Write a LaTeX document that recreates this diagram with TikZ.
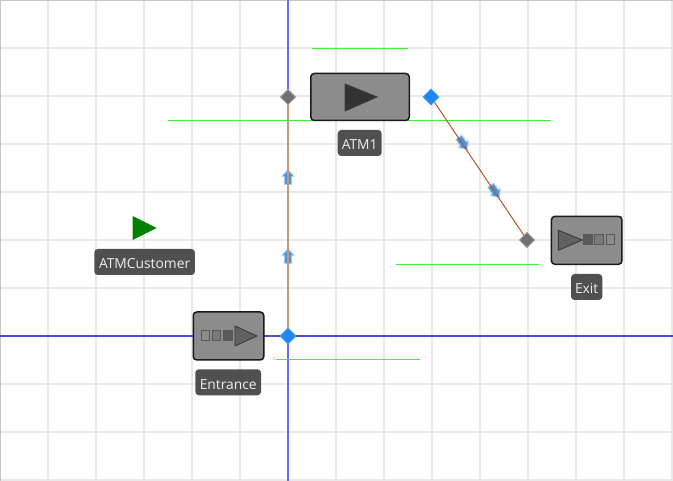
\documentclass[tikz,border=0pt]{standalone}
\usepackage{fontspec}
\setmainfont{Open Sans}
\usetikzlibrary{shapes.geometric}
\definecolor{gridc}{HTML}{E8E8E8}
\definecolor{axish}{HTML}{4A4AE0}
\definecolor{axisv}{HTML}{6C6CF2}
\definecolor{greenl}{HTML}{3CF03C}
\definecolor{boxf}{HTML}{8C8C8C}
\definecolor{boxd}{HTML}{1A1A1A}
\definecolor{labf}{HTML}{505050}
\definecolor{labt}{HTML}{EFEFEF}
\definecolor{bluep}{HTML}{1E88F0}
\definecolor{grayp}{HTML}{707070}
\definecolor{tanc}{HTML}{C09A80}
\definecolor{brownc}{HTML}{A85A28}
\definecolor{arrf}{HTML}{4A94E0}
\definecolor{arre}{HTML}{B0CCEA}
\definecolor{triout}{HTML}{3A3A3A}
\tikzset{
  gridline/.style={gridc,line width=1.5pt},
  axisline/.style={line width=1.1pt},
  greenbar/.style={fill=greenl,draw=none},
  objbox/.style={draw=boxd,fill=boxf,line width=1.5pt,rounded corners=3.5pt,inner sep=0pt,minimum height=47pt},
  lab/.style={fill=labf,text=labt,rounded corners=3.5pt,inner sep=0pt,minimum height=26pt,text height=14pt,text depth=0pt,font=\fontsize{13.8}{15}\selectfont},
  portin/.style={diamond,aspect=1,fill=grayp,draw=grayp!70!white,line width=.6pt,inner sep=0pt,minimum size=15pt},
  portout/.style={diamond,aspect=1,fill=bluep,draw=bluep!80!white,line width=.6pt,inner sep=0pt,minimum size=16pt},
  tube/.style={tanc,line width=1.6pt},
  tubeb/.style={brownc,line width=1pt},
  tri/.style={draw=triout,line width=.9pt,line join=miter},
  pip/.style={line width=1pt,draw=triout!85!white},
  flowarrow/.style={fill=arrf,draw=arre,line width=.9pt,line join=round}
}
\newcommand{\flowmark}[3]{%
  \begin{scope}[shift={(#1,#2)},rotate=#3]
    \path[flowarrow] (0,-7.5)--(6,-.5)--(3.6,-.5)--(3.6,7.5)--(-3.6,7.5)--(-3.6,-.5)--(-6,-.5)--cycle;
  \end{scope}}
\begin{document}
\begin{tikzpicture}[x=1pt,y=-1pt]
\useasboundingbox (0,0) rectangle (673,481);
\fill[white] (0,0) rectangle (673,481);
\foreach \gx in {48,96,144,192,240,336,384,432,480,528,576,624,672}
  \draw[gridline] (\gx,0) -- (\gx,481);
\foreach \gy in {48,96,144,192,240,288,384,432,480}
  \draw[gridline] (0,\gy) -- (673,\gy);
\draw[gridc!85!black,line width=1.2pt] (0.6,0) -- (0.6,481);
\draw[gridc!85!black,line width=1.2pt] (0,0.6) -- (673,0.6);
\draw[axisline,axish] (0,336) -- (673,336);
\draw[axisline,axisv] (288,0) -- (288,481);
\fill[greenbar] (312,47.8) rectangle (408,49.1);
\fill[greenbar] (168,119.8) rectangle (551,121.1);
\fill[greenbar] (396,263.8) rectangle (539,265.1);
\fill[greenbar] (276,358.8) rectangle (420,360.1);

\node[portin] (atmin) at (288,97) {};
\node[portout] (atmout) at (431,97) {};
\node[portin] (exitin) at (527,240) {};
\node[portout] (entout) at (288,336) {};
\flowmark{288}{177}{0}
\flowmark{288}{256}{0}
\flowmark{463}{143.5}{-146}
\flowmark{495}{191.5}{-146}
\path[tube] (entout.center) edge (atmin.center);
\path[tubeb] (atmout.center) edge (exitin.center);
\node[portin] at (atmin) {};
\node[portout] at (atmout) {};
\node[portin] at (exitin) {};
\node[portout] at (entout) {};

% ATM1
\node[objbox,minimum width=98.5pt] (atm) at (360,97) {};
\path[tri,fill=black!80] (345,84) -- (345,111) -- (377,97) -- cycle;
\node[lab,minimum width=44pt] (atmlab) at (359.7,143) {ATM1};

% Entrance
\node[objbox,minimum width=70.5pt,minimum height=48pt] (ent) at (228.5,336) {};
\path[tri,fill=black!62] (235,326) -- (235,346) -- (257,336) -- cycle;
\path[pip,fill=boxf] (201,331) rectangle (209,341);
\path[pip,fill=black!52] (212.3,331) rectangle (220.3,341);
\path[pip,fill=black!65] (223.3,331) rectangle (232,341);
\node[lab,minimum width=65.7pt] (entlab) at (228.2,382.3) {Entrance};

% Exit
\node[objbox,minimum width=70.5pt,minimum height=48pt] (exit) at (586.7,240.3) {};
\path[tri,fill=black!62] (558.3,230.3) -- (558.3,250.3) -- (582.3,240) -- cycle;
\path[pip,fill=black!65] (583.3,235) rectangle (592,245);
\path[pip,fill=black!52] (594.3,235) rectangle (603,245);
\path[pip,fill=boxf] (606,235) rectangle (614.7,245);
\node[lab,minimum width=31.3pt] (exitlab) at (586.7,287) {Exit};

% ATMCustomer
\path[fill={rgb,255:red,0;green,128;blue,0}] (132.7,216) -- (132.7,240) -- (156.7,228) -- cycle;
\node[lab,minimum width=100.7pt] (custlab) at (144.6,262) {ATMCustomer};
\end{tikzpicture}
\end{document}
